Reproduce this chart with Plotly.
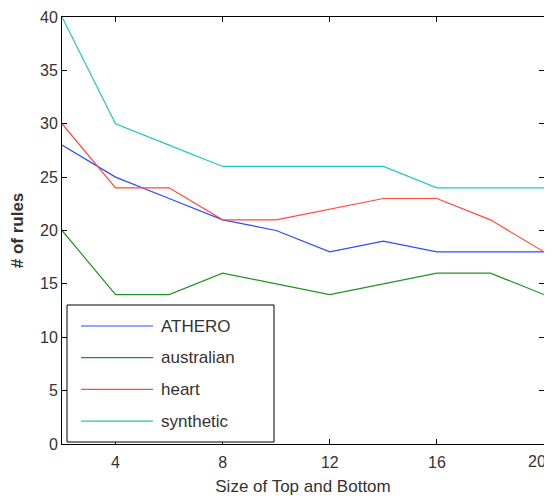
import plotly.graph_objects as go

x_sizes = [2, 4, 6, 8, 10, 12, 14, 16, 18, 20]
athero = [28, 25, 23, 21, 20, 18, 19, 18, 18, 18]
australian = [20, 14, 14, 16, 15, 14, 15, 16, 16, 14]
heart = [30, 24, 24, 21, 21, 22, 23, 23, 21, 18]
synthetic = [40, 30, 28, 26, 26, 26, 26, 24, 24, 24]

series_names = ["ATHERO", "australian", "heart", "synthetic"]
series_values = [athero, australian, heart, synthetic]
series_colors = ["#2a4cff", "#229322", "#ff4a38", "#22c6c6"]

x_ticks = [4, 8, 12, 16, 20]
x_tick_labels = ["4", "8", "12", "16", "20"]
y_ticks = [0, 5, 10, 15, 20, 25, 30, 35, 40]

FONT = "Liberation Sans, Arial, sans-serif"
TXT = "#333333"

# the page body has an 8px margin, so the figure is sized to fill the window from there
OFF = 8
W, H = 544, 488
ML, MR, MT, MB = 54, 8, 9, 52
PW, PH = W - ML - MR, H - MT - MB

fig = go.Figure()
for name, vals, col in zip(series_names, series_values, series_colors):
    fig.add_trace(go.Scatter(
        x=x_sizes, y=vals, mode="lines", name=name, showlegend=False,
        line=dict(color=col, width=1.2),
    ))

axis_common = dict(
    showline=True, linecolor="black", linewidth=1, mirror="ticks",
    ticks="inside", ticklen=5, tickcolor="black", showgrid=False,
    zeroline=False, tickfont=dict(family=FONT, size=16, color=TXT),
    ticklabeloverflow="allow", automargin=False,
)

def px_x(p):
    return (p - OFF - ML) / PW

def px_y(p):
    return (H - MB - (p - OFF)) / PH

# boxed legend like the reference
shapes = [dict(type="rect", xref="paper", yref="paper",
               x0=px_x(67), x1=px_x(274), y0=px_y(442), y1=px_y(305),
               line=dict(color="black", width=1), fillcolor="white", layer="above")]
annotations = []
for i, (name, col) in enumerate(zip(series_names, series_colors)):
    yc = px_y(326 + i * 31.7)
    shapes.append(dict(type="line", xref="paper", yref="paper",
                       x0=px_x(81), x1=px_x(153), y0=yc, y1=yc,
                       line=dict(color=col, width=1.2), layer="above"))
    annotations.append(dict(xref="paper", yref="paper", x=px_x(159), y=yc,
                            text=name, showarrow=False, xanchor="left", yanchor="middle",
                            font=dict(family=FONT, size=17, color=TXT)))

# the last x tick label is kept inside the window (right-aligned at its tick), as in the reference
shown_ticktext = x_tick_labels[:-1] + [""]
annotations.append(dict(xref="x", yref="paper", x=x_ticks[-1], y=0,
                        text=x_tick_labels[-1], showarrow=False,
                        xanchor="right", yanchor="middle", xshift=4, yshift=-17,
                        font=dict(family=FONT, size=16, color=TXT)))

fig.update_layout(
    width=W, height=H,
    margin=dict(l=ML, r=MR, t=MT, b=MB),
    paper_bgcolor="white", plot_bgcolor="white",
    font=dict(family=FONT, size=16, color=TXT),
    xaxis=dict(range=[2, 20], tickvals=x_ticks, ticktext=shown_ticktext,
               title=dict(text="Size of Top and Bottom", font=dict(size=17, color=TXT), standoff=9),
               ticklabelstandoff=4,
               **axis_common),
    yaxis=dict(range=[0, 40], tickvals=y_ticks,
               title=dict(text="<b># of rules</b>", font=dict(size=17, color=TXT), standoff=18),
               **axis_common),
    showlegend=False,
    shapes=shapes,
    annotations=annotations,
)

fig.write_html("out.html")
